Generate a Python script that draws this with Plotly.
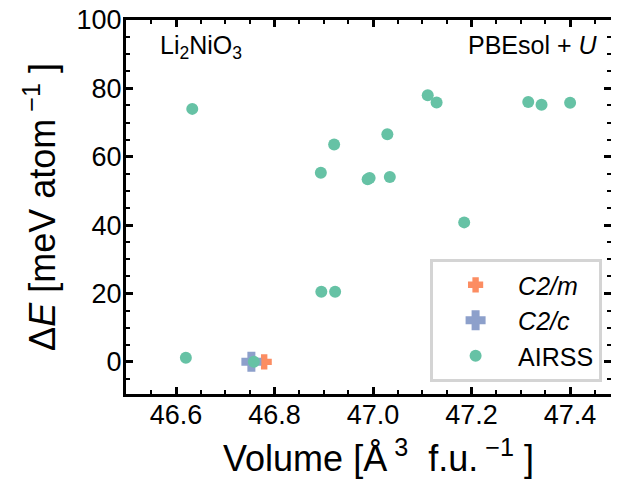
import plotly.graph_objects as go

# Data
c2m_volume = [46.779]
c2m_energy = [0.0]

c2c_volume = [46.753]
c2c_energy = [0.0]

airss_volume = [46.620, 46.633, 46.758, 46.894, 46.895, 46.921, 46.923, 46.989,
                46.993, 47.029, 47.034, 47.111, 47.129, 47.185, 47.315, 47.342, 47.400]
airss_energy = [1.2, 74.0, 0.0, 55.3, 20.5, 63.6, 20.5, 53.4,
                53.8, 66.6, 54.1, 78.0, 75.9, 40.8, 76.0, 75.2, 75.8]

x_ticks = [46.6, 46.8, 47.0, 47.2, 47.4]
x_tick_labels = ["46.6", "46.8", "47.0", "47.2", "47.4"]
y_ticks = [0, 20, 40, 60, 80, 100]
y_tick_labels = ["0", "20", "40", "60", "80", "100"]

ORANGE = "#fc8d62"
BLUE = "#8da0cb"
GREEN = "#66c2a5"
FONT = "Liberation Sans, Arial, sans-serif"

fig = go.Figure()
fig.add_trace(go.Scatter(x=c2m_volume, y=c2m_energy, mode="markers",
                         name="<i>C2/m</i>",
                         marker=dict(symbol="cross", size=11, color=ORANGE,
                                     line=dict(color=ORANGE, width=2))))
fig.add_trace(go.Scatter(x=c2c_volume, y=c2c_energy, mode="markers",
                         name="<i>C2/c</i>",
                         marker=dict(symbol="cross", size=15, color=BLUE,
                                     line=dict(color=BLUE, width=2))))
fig.add_trace(go.Scatter(x=airss_volume, y=airss_energy, mode="markers",
                         name="AIRSS",
                         marker=dict(symbol="circle", size=12, color=GREEN)))

axis_common = dict(
    showline=True, linecolor="black", linewidth=3, mirror="allticks",
    ticks="inside", ticklen=7, tickwidth=2.5, tickcolor="black",
    showgrid=False, zeroline=False, automargin=False,
    ticklabeloverflow="allow",
    tickfont=dict(family=FONT, size=27, color="black"),
)

fig.update_xaxes(
    range=[46.4985, 47.483], tickvals=x_ticks, ticktext=x_tick_labels,
    minor=dict(dtick=0.05, ticks="inside", ticklen=4, tickwidth=2, tickcolor="black", showgrid=False),
    title=dict(text="&nbsp;&nbsp;Volume [Å<sup> 3</sup>  f.u.<sup> −1</sup> ]",
               font=dict(family=FONT, size=36, color="black"), standoff=17),
    ticklabelstandoff=-5,
    **axis_common,
)
fig.update_yaxes(
    range=[-9.4, 100], tickvals=y_ticks, ticktext=y_tick_labels,
    minor=dict(dtick=5, ticks="inside", ticklen=4, tickwidth=2, tickcolor="black", showgrid=False),
    title=dict(text="Δ<i>E</i> [meV atom<sup> −1</sup> ]",
               font=dict(family=FONT, size=36, color="black"), standoff=10),
    ticklabelstandoff=-4,
    **axis_common,
)

fig.add_annotation(text="Li<sub>2</sub>NiO<sub>3</sub>", xref="paper", yref="paper",
                   x=0.065, y=0.975, xanchor="left", yanchor="top", showarrow=False,
                   font=dict(family=FONT, size=25, color="black"))
fig.add_annotation(text="PBEsol + <i>U</i>", xref="paper", yref="paper",
                   x=0.975, y=0.975, xanchor="right", yanchor="top", showarrow=False,
                   font=dict(family=FONT, size=25, color="black"))

# The page body has an 8px margin, so the figure is drawn 8px in from the top-left.
fig.update_layout(
    width=611, height=483,
    margin=dict(l=118, r=8, t=12, b=97),
    plot_bgcolor="white", paper_bgcolor="white",
    showlegend=True,
    legend=dict(x=0.627, y=0.032, xanchor="left", yanchor="bottom",
                bgcolor="white", bordercolor="#d4d4d4", borderwidth=3,
                font=dict(family=FONT, size=25, color="black"),
                itemwidth=75, tracegroupgap=0),
)

fig.write_html("out.html")
